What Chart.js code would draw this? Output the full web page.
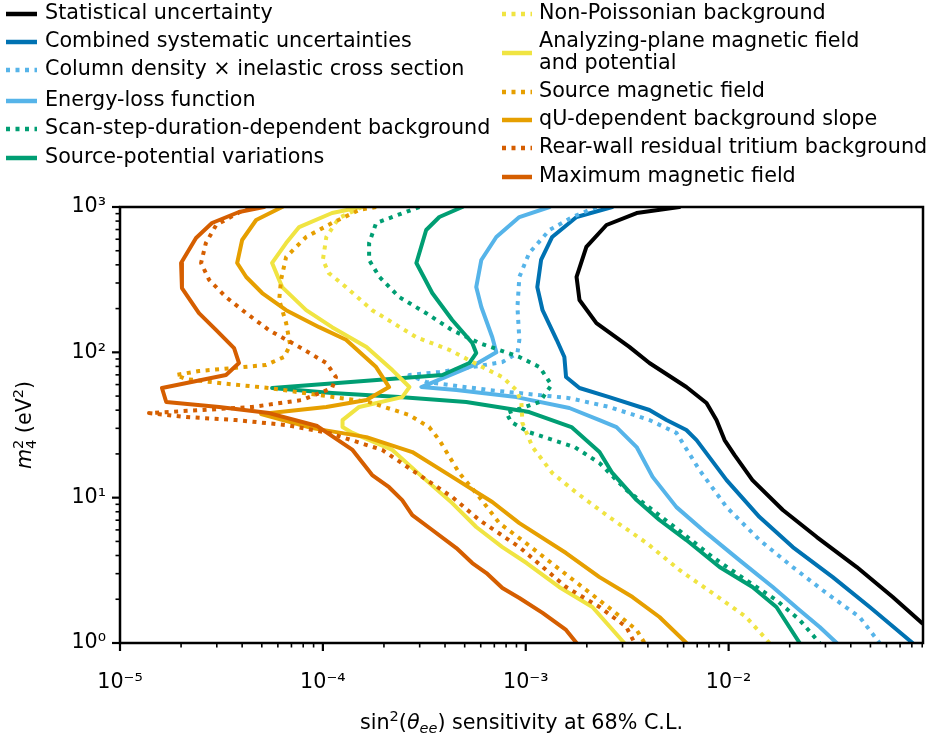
<!DOCTYPE html>
<html>
<head>
<meta charset="utf-8">
<script src="https://cdn.jsdelivr.net/npm/chart.js@4.4.1/dist/chart.umd.min.js"></script>
<style>
  html, body { margin: 0; padding: 0; background: #fff; }
  #wrap { width: 931px; height: 742px; }
</style>
</head>
<body>
<div id="wrap"><canvas id="chart" width="931" height="742"></canvas></div>
<script>
// sin^2(theta_ee) sensitivity (x) vs m4^2 in eV^2 (y), one pair of arrays per contour

const statM2  = [1000, 909, 752, 531, 330, 229, 159, 109, 84.4, 57.7, 44.8, 34.2, 24.9, 19.6, 13.2, 8.22, 5.36, 3.33, 2.07, 1.37, 1];
const statSin = [5.72e-3, 3.52e-3, 2.50e-3, 1.99e-3, 1.78e-3, 1.84e-3, 2.23e-3, 3.24e-3, 4.07e-3, 6.19e-3, 7.78e-3, 8.71e-3, 9.55e-3, 1.07e-2, 1.31e-2, 1.85e-2, 2.72e-2, 4.28e-2, 6.44e-2, 9.0e-2, 0.123];

const combM2  = [1000, 853, 622, 432, 281, 195, 122, 92.9, 67.6, 56.8, 49.2, 40.1, 34.2, 29.2, 24.9, 13.2, 7.35, 4.57, 2.84, 1.77, 1];
const combSin = [2.67e-3, 1.78e-3, 1.35e-3, 1.19e-3, 1.14e-3, 1.21e-3, 1.42e-3, 1.55e-3, 1.58e-3, 1.84e-3, 2.58e-3, 4.07e-3, 4.94e-3, 6.19e-3, 6.95e-3, 9.77e-3, 1.42e-2, 2.07e-2, 3.26e-2, 4.96e-2, 8.07e-2];

const colM2  = [1000, 853, 695, 482, 330, 205, 122, 98.8, 85.7, 79.2, 73.2, 69.8, 62.5, 55.0, 48.4, 42.1, 34.2, 27.9, 15.5, 8.61, 5.11, 3.33, 2.20, 1.51, 1];
const colSin = [2.23e-3, 1.70e-3, 1.31e-3, 1.04e-3, 9.30e-4, 9.10e-4, 9.30e-4, 9.10e-4, 7.67e-4, 5.45e-4, 3.75e-4, 2.67e-4, 3.23e-4, 6.61e-4, 1.64e-3, 2.58e-3, 4.07e-3, 5.53e-3, 7.18e-3, 9.77e-3, 1.42e-2, 2.07e-2, 3.04e-2, 4.42e-2, 5.55e-2];

const elossM2  = [1000, 853, 622, 432, 281, 205, 127, 100, 83.0, 57.7, 55.0, 49.2, 41.4, 34.2, 30.6, 22.3, 13.9, 8.61, 5.70, 3.72, 2.43, 1.68, 1.29, 1];
const elossSin = [1.31e-3, 9.30e-4, 7.16e-4, 6.04e-4, 5.70e-4, 6.04e-4, 6.84e-4, 7.16e-4, 5.70e-4, 3.06e-4, 4.55e-4, 8.99e-4, 1.64e-3, 2.31e-3, 2.80e-3, 3.52e-3, 4.22e-3, 5.53e-3, 7.78e-3, 1.13e-2, 1.65e-2, 2.24e-2, 2.81e-2, 3.41e-2];

const scanM2  = [1000, 776, 565, 432, 330, 240, 186, 142, 116, 92.9, 79.2, 59.6, 45.5, 38.2, 33.1, 28.2, 22.3, 17.3, 11.3, 8.22, 5.70, 3.90, 2.71, 1.97, 1.44, 1];
const scanSin = [2.99e-4, 1.83e-4, 1.69e-4, 1.69e-4, 1.90e-4, 2.38e-4, 3.23e-4, 4.34e-4, 5.90e-4, 9.30e-4, 1.17e-3, 1.34e-3, 1.17e-3, 8.02e-4, 8.49e-4, 1.04e-3, 1.74e-3, 2.31e-3, 3.13e-3, 4.22e-3, 5.93e-3, 8.34e-3, 1.22e-2, 1.72e-2, 2.24e-2, 2.81e-2];

const srcPotM2  = [1000, 853, 695, 412, 256, 167, 116, 98.8, 84.4, 69.8, 56.8, 52.5, 49.2, 45.5, 38.8, 30.6, 20.6, 14.8, 9.62, 7.02, 5.11, 3.33, 2.43, 1.77, 1];
const srcPotSin = [4.87e-4, 3.75e-4, 3.23e-4, 2.89e-4, 3.46e-4, 4.34e-4, 5.45e-4, 5.70e-4, 5.27e-4, 3.88e-4, 5.62e-5, 1.11e-4, 2.38e-4, 5.09e-4, 1.04e-3, 1.68e-3, 2.31e-3, 2.67e-3, 3.52e-3, 4.56e-3, 6.19e-3, 9.02e-3, 1.31e-2, 1.72e-2, 2.24e-2];

const nonPoisM2  = [1000, 840, 622, 432, 351, 281, 195, 127, 104, 79.2, 67.6, 55.0, 44.8, 32.6, 27.9, 22.3, 14.8, 10.8, 7.35, 4.88, 3.18, 2.20, 1.51, 1];
const nonPoisSin = [1.56e-4, 1.20e-4, 1.04e-4, 1.0e-4, 1.07e-4, 1.30e-4, 1.75e-4, 2.89e-4, 4.20e-4, 6.11e-4, 7.67e-4, 9.0e-4, 9.52e-4, 9.63e-4, 1.01e-3, 1.08e-3, 1.35e-3, 1.78e-3, 2.58e-3, 3.94e-3, 5.72e-3, 8.34e-3, 1.22e-2, 1.59e-2];

const apM2  = [1000, 909, 728, 565, 412, 281, 195, 149, 109, 75.5, 57.7, 49.2, 42.1, 34.2, 30.6, 27.9, 21.3, 13.9, 9.18, 6.28, 4.57, 3.55, 2.43, 1.77, 1];
const apSin = [1.55e-4, 1.11e-4, 7.64e-5, 6.59e-5, 5.62e-5, 6.30e-5, 8.27e-5, 1.11e-4, 1.64e-4, 2.20e-4, 2.67e-4, 2.46e-4, 1.51e-4, 1.25e-4, 1.25e-4, 1.40e-4, 2.20e-4, 3.09e-4, 4.34e-4, 5.70e-4, 7.67e-4, 1.01e-3, 1.46e-3, 2.13e-3, 3.06e-3];

const srcMagM2  = [1000, 954, 776, 622, 453, 315, 229, 159, 112, 92.9, 81.8, 77.9, 74.4, 69.8, 65.5, 61.5, 56.8, 50.8, 45.5, 37.0, 30.6, 24.9, 14.8, 10.1, 6.68, 4.88, 3.33, 2.31, 1.68, 1.23, 1];
const srcMagSin = [1.83e-4, 1.51e-4, 1.11e-4, 8.27e-5, 6.59e-5, 6.22e-5, 6.09e-5, 6.59e-5, 6.90e-5, 6.44e-5, 5.25e-5, 3.57e-5, 2.45e-5, 1.89e-5, 2.12e-5, 3.08e-5, 5.43e-5, 9.59e-5, 1.69e-4, 2.67e-4, 3.34e-4, 3.75e-4, 4.70e-4, 5.90e-4, 7.41e-4, 1.0e-3, 1.42e-3, 1.99e-3, 2.67e-3, 3.52e-3, 3.85e-3];

const qUM2  = [1000, 814, 593, 412, 330, 256, 195, 149, 122, 79.2, 57.7, 47.0, 42.1, 37.6, 30.1, 26.1, 20.6, 13.9, 9.33, 6.68, 4.16, 2.84, 2.07, 1.51, 1];
const qUSin = [6.30e-5, 4.69e-5, 4.00e-5, 3.78e-5, 4.19e-5, 5.02e-5, 6.59e-5, 9.59e-5, 1.30e-4, 1.83e-4, 2.12e-4, 1.64e-4, 1.04e-4, 4.96e-5, 8.85e-5, 1.64e-4, 2.76e-4, 4.34e-4, 6.84e-4, 9.30e-4, 1.58e-3, 2.31e-3, 3.36e-3, 4.56e-3, 6.19e-3];

const rearM2  = [1000, 752, 565, 412, 315, 240, 186, 142, 109, 84.4, 67.6, 56.8, 47.0, 42.1, 40.1, 38.2, 35.9, 34.2, 31.6, 27.9, 21.3, 14.3, 10.1, 7.02, 4.57, 2.43, 1.77, 1.29, 1];
const rearSin = [4.33e-5, 2.98e-5, 2.65e-5, 2.51e-5, 2.75e-5, 3.33e-5, 4.19e-5, 5.43e-5, 7.64e-5, 1.04e-4, 1.16e-4, 1.11e-4, 7.90e-5, 4.48e-5, 2.54e-5, 1.39e-5, 2.12e-5, 3.73e-5, 6.59e-5, 1.07e-4, 1.96e-4, 2.99e-4, 4.34e-4, 5.90e-4, 9.30e-4, 1.58e-3, 2.31e-3, 3.13e-3, 3.44e-3];

const maxBM2  = [1000, 924, 776, 612, 412, 277, 186, 142, 107, 84.4, 69.8, 56.8, 45.5, 42.1, 38.2, 31.1, 21.3, 14.3, 11.8, 9.62, 7.59, 5.99, 4.50, 3.55, 3.03, 2.39, 2.04, 1.61, 1.23, 1];
const maxBSin = [5.13e-5, 3.86e-5, 2.84e-5, 2.37e-5, 2.00e-5, 2.02e-5, 2.45e-5, 2.98e-5, 3.65e-5, 3.86e-5, 3.33e-5, 1.61e-5, 1.69e-5, 3.08e-5, 5.43e-5, 9.38e-5, 1.40e-4, 1.75e-4, 2.12e-4, 2.46e-4, 2.76e-4, 3.46e-4, 4.55e-4, 5.45e-4, 6.40e-4, 7.67e-4, 9.30e-4, 1.21e-3, 1.58e-3, 1.78e-3];

const seriesLabels = [
  'Statistical uncertainty',
  'Combined systematic uncertainties',
  'Column density \u00d7 inelastic cross section',
  'Energy-loss function',
  'Scan-step-duration-dependent background',
  'Source-potential variations',
  'Non-Poissonian background',
  'Analyzing-plane magnetic field\nand potential',
  'Source magnetic field',
  'qU-dependent background slope',
  'Rear-wall residual tritium background',
  'Maximum magnetic field'
];
const seriesM2  = [statM2, combM2, colM2, elossM2, scanM2, srcPotM2, nonPoisM2, apM2, srcMagM2, qUM2, rearM2, maxBM2];
const seriesSin = [statSin, combSin, colSin, elossSin, scanSin, srcPotSin, nonPoisSin, apSin, srcMagSin, qUSin, rearSin, maxBSin];

// axis ranges
const xMin = 1e-5, xMax = 0.0908;
const yMin = 1, yMax = 1000;

// styling
const colors = ['#000000', '#0072B2', '#56B4E9', '#56B4E9', '#009E73', '#009E73',
                '#F0E442', '#F0E442', '#E69F00', '#E69F00', '#D55E00', '#D55E00'];
const dotted = [false, false, true, false, true, false, true, false, true, false, true, false];
const FONT = "'DejaVu Sans', 'Liberation Sans', sans-serif";
const FS = 20.7;
const LW = 4;
const DASH = [4, 5.5];

const SUP = { '-': '\u207b', '0': '\u2070', '1': '\u00b9', '2': '\u00b2', '3': '\u00b3',
              '4': '\u2074', '5': '\u2075', '6': '\u2076', '7': '\u2077', '8': '\u2078', '9': '\u2079' };
function decadeLabel(v) {
  const e = Math.log10(v);
  const r = Math.round(e);
  if (Math.abs(e - r) > 1e-6) return '';
  return '10' + String(r).split('').map(c => SUP[c]).join('');
}

const datasets = seriesLabels.map((label, i) => ({
  label,
  data: seriesSin[i].map((x, j) => ({ x, y: seriesM2[i][j] })),
  borderColor: colors[i],
  backgroundColor: colors[i],
  borderWidth: LW,
  borderDash: dotted[i] ? DASH : [],
  borderCapStyle: dotted[i] ? 'butt' : 'round',
  borderJoinStyle: 'round',
  pointRadius: 0,
  pointHoverRadius: 0,
  showLine: true,
  fill: false,
  tension: 0,
  order: seriesLabels.length - 1 - i   // later series on top, like matplotlib
}));

// draw text made of runs (for super/subscripts)
function drawRuns(ctx, runs, x, y) {
  let total = 0;
  runs.forEach(r => {
    ctx.font = (r.italic ? 'italic ' : '') + r.size + 'px ' + FONT;
    r.w = ctx.measureText(r.t).width;
    if (!r.stack) total += r.w;
  });
  let cx = x - total / 2;
  runs.forEach(r => {
    ctx.font = (r.italic ? 'italic ' : '') + r.size + 'px ' + FONT;
    ctx.fillText(r.t, cx, y + (r.dy || 0));
    if (!r.stack) cx += r.w;
  });
}

const decorPlugin = {
  id: 'decor',
  afterDraw(chart) {
    const { ctx, chartArea: a, scales } = chart;
    const xs = scales.x, ys = scales.y;
    ctx.save();
    ctx.strokeStyle = '#000';
    ctx.fillStyle = '#000';

    // frame
    ctx.lineWidth = 2.5;
    ctx.strokeRect(a.left, a.top, a.right - a.left, a.bottom - a.top);

    // log ticks, outward
    for (let n = -5; n <= -1; n++) {
      for (let k = 1; k <= 9; k++) {
        const v = k * Math.pow(10, n);
        if (v < xMin * 0.999 || v > xMax) continue;
        const px = xs.getPixelForValue(v);
        ctx.lineWidth = k === 1 ? 2.2 : 1.6;
        ctx.beginPath();
        ctx.moveTo(px, a.bottom);
        ctx.lineTo(px, a.bottom + (k === 1 ? 8 : 4.5));
        ctx.stroke();
      }
    }
    for (let n = 0; n <= 3; n++) {
      for (let k = 1; k <= 9; k++) {
        const v = k * Math.pow(10, n);
        if (v > yMax * 1.001) continue;
        const py = ys.getPixelForValue(v);
        ctx.lineWidth = k === 1 ? 2.2 : 1.6;
        ctx.beginPath();
        ctx.moveTo(a.left, py);
        ctx.lineTo(a.left - (k === 1 ? 8 : 4.5), py);
        ctx.stroke();
      }
    }

    // axis titles
    ctx.textBaseline = 'alphabetic';
    ctx.textAlign = 'left';
    drawRuns(ctx, [
      { t: 'sin', size: FS },
      { t: '2', size: 14.5, dy: -8 },
      { t: '(', size: FS },
      { t: '\u03b8', size: FS, italic: true },
      { t: 'ee', size: 14.5, italic: true, dy: 4 },
      { t: ') sensitivity at 68% C.L.', size: FS }
    ], (a.left + a.right) / 2, 729);

    ctx.save();
    ctx.translate(31, (a.top + a.bottom) / 2);
    ctx.rotate(-Math.PI / 2);
    drawRuns(ctx, [
      { t: 'm', size: FS, italic: true },
      { t: '2', size: 14.5, dy: -8, stack: true },
      { t: '4', size: 14.5, dy: 5 },
      { t: ' (eV', size: FS },
      { t: '2', size: 14.5, dy: -8 },
      { t: ')', size: FS }
    ], 0, 0);
    ctx.restore();

    // legend, two columns
    const rowsLeft = [14, 42, 70, 101, 129, 158];
    const rowsRight = [14, 53, 92, 120, 148, 177];
    ctx.textBaseline = 'middle';
    ctx.font = FS + 'px ' + FONT;
    chart.data.datasets.forEach((ds, i) => {
      const left = i < 6;
      const yy = left ? rowsLeft[i] : rowsRight[i - 6];
      const x0 = left ? 6 : 502;
      const x1 = left ? 37 : 532;
      const tx = left ? 45 : 539;
      ctx.strokeStyle = ds.borderColor;
      ctx.lineWidth = 4.5;
      ctx.setLineDash(dotted[i] ? DASH : []);
      ctx.lineCap = 'butt';
      ctx.beginPath();
      ctx.moveTo(x0, yy);
      ctx.lineTo(x1, yy);
      ctx.stroke();
      ctx.setLineDash([]);
      ctx.fillStyle = '#000';
      const lines = ds.label.split('\n');
      const step = 22;
      lines.forEach((ln, j) => {
        ctx.fillText(ln, tx, yy + (j - (lines.length - 1) / 2) * step);
      });
    });
    ctx.restore();
  }
};

function noPad(s) {
  s.paddingLeft = 0; s.paddingRight = 0; s.paddingTop = 0; s.paddingBottom = 0;
}

new Chart(document.getElementById('chart'), {
  type: 'scatter',
  data: { datasets },
  options: {
    responsive: false,
    devicePixelRatio: 1,
    animation: false,
    layout: { padding: { left: 0, top: 207, right: 8, bottom: 0 } },
    plugins: { legend: { display: false }, tooltip: { enabled: false } },
    scales: {
      x: {
        type: 'logarithmic',
        position: 'bottom',
        min: xMin,
        max: xMax,
        grid: { display: false, drawTicks: false },
        border: { display: false },
        ticks: {
          autoSkip: false,
          maxRotation: 0,
          padding: 27,
          color: '#000',
          font: { family: FONT, size: FS },
          callback: v => decadeLabel(v)
        },
        afterFit: s => { s.height = 99; noPad(s); }
      },
      y: {
        type: 'logarithmic',
        position: 'left',
        min: yMin,
        max: yMax,
        grid: { display: false, drawTicks: false },
        border: { display: false },
        ticks: {
          autoSkip: false,
          padding: 14,
          color: '#000',
          font: { family: FONT, size: FS },
          callback: v => decadeLabel(v)
        },
        afterFit: s => { s.width = 120; noPad(s); }
      }
    }
  },
  plugins: [decorPlugin]
});
</script>
</body>
</html>
